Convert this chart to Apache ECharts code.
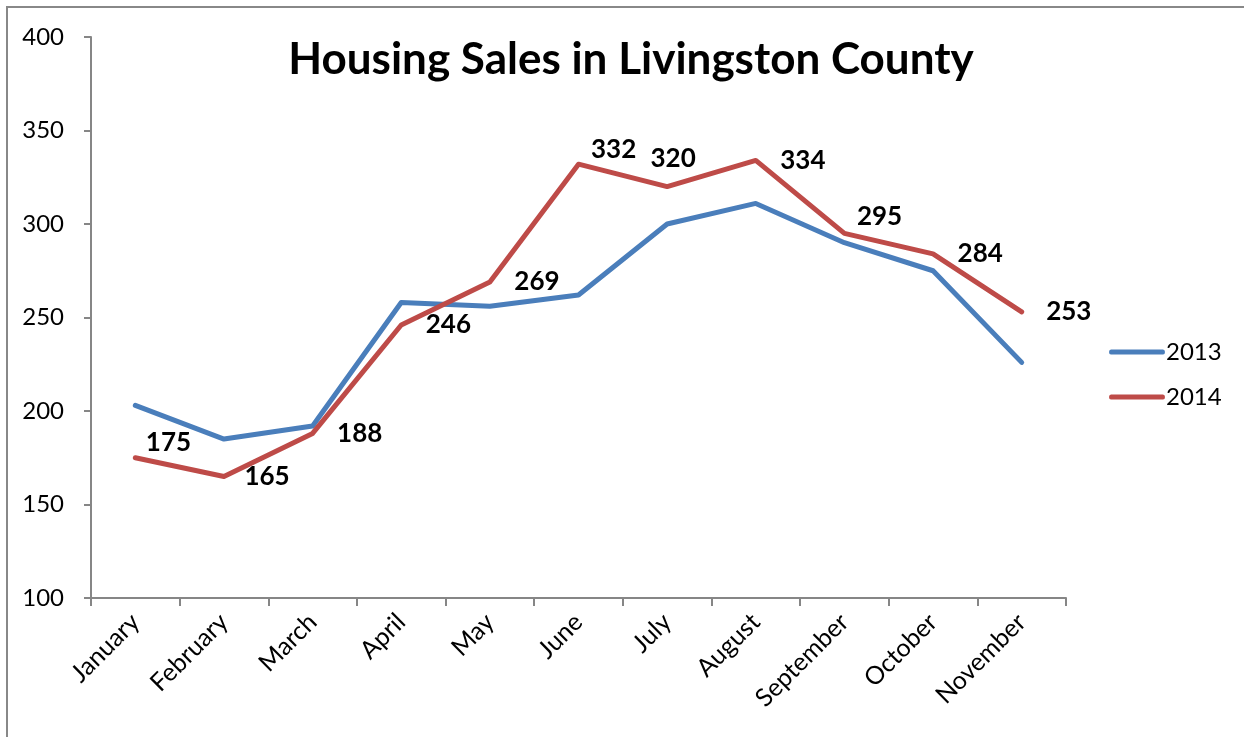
<!DOCTYPE html>
<html>
<head>
<meta charset="utf-8">
<script src="https://cdn.jsdelivr.net/npm/echarts@6/dist/echarts.min.js"></script>
<style>
  html, body { margin: 0; padding: 0; background: #fff; }
  #chart { width: 1244px; height: 737px; }
</style>
</head>
<body>
<div id="chart"></div>
<script>
// chart data
const months = ['January', 'February', 'March', 'April', 'May', 'June', 'July', 'August', 'September', 'October', 'November'];
const sales2013 = [203, 185, 192, 258, 256, 262, 300, 311, 290, 275, 226];
const sales2014 = [175, 165, 188, 246, 269, 332, 320, 334, 295, 284, 253];
const yTicks = [100, 150, 200, 250, 300, 350, 400];

const font = 'Lato, "Open Sans", sans-serif';

// label placement tweaks for the 2014 values (by month index)
const labelTweaks = {
    0: { distance: 10, offset: [0, -15] },
    1: { distance: 20 },
    5: { distance: 12, offset: [0, -15] },
    6: { position: 'top', distance: 14, offset: [6, 0] },
    8: { distance: 12, offset: [0, -17] }
};

const chart = echarts.init(document.getElementById('chart'));
chart.setOption({
    animation: false,
    backgroundColor: '#fff',
    title: {
        text: 'Housing Sales in Livingston County',
        left: 626,
        top: 33,
        textAlign: 'center',
        textStyle: { fontFamily: font, fontWeight: 'bold', fontSize: 44, color: '#000' }
    },
    graphic: [{
        type: 'rect',
        shape: { x: 7, y: 7, width: 1400, height: 900 },
        style: { fill: 'none', stroke: '#888', lineWidth: 2 },
        silent: true
    }],
    legend: {
        orient: 'vertical',
        left: 1104,
        top: 335,
        itemWidth: 56,
        itemHeight: 14,
        itemGap: 21,
        icon: 'path://M2,5 L54,5 Q56,5 56,7.5 Q56,10 54,10 L2,10 Q0,10 0,7.5 Q0,5 2,5 Z',
        textStyle: { fontFamily: font, fontSize: 24, color: '#000', padding: [0, 0, 0, -4] },
        data: ['2013', '2014']
    },
    grid: { left: 91, right: 178, top: 37, bottom: 139 },
    xAxis: {
        type: 'category',
        data: months,
        boundaryGap: true,
        axisLine: { lineStyle: { color: '#868686', width: 2 } },
        axisTick: { show: true, length: 8, lineStyle: { color: '#868686', width: 2 } },
        axisLabel: { rotate: 45, margin: 20, fontFamily: font, fontSize: 25, color: '#000', interval: 0 }
    },
    yAxis: {
        type: 'value',
        min: yTicks[0],
        max: yTicks[yTicks.length - 1],
        interval: 50,
        splitLine: { show: false },
        axisLine: { show: true, lineStyle: { color: '#868686', width: 2 } },
        axisTick: { show: true, length: 7, lineStyle: { color: '#868686', width: 2 } },
        axisLabel: { margin: 27, fontFamily: font, fontSize: 24, color: '#000' }
    },
    series: [
        {
            name: '2013',
            type: 'line',
            data: sales2013,
            color: '#4A7EBB',
            symbol: 'none',
            lineStyle: { width: 5, color: '#4A7EBB', cap: 'round', join: 'round' },
            z: 2
        },
        {
            name: '2014',
            type: 'line',
            data: sales2014.map((v, i) => {
                const t = labelTweaks[i];
                return t ? { value: v, label: t } : v;
            }),
            color: '#BE4B48',
            symbol: 'circle',
            symbolSize: 1,
            showSymbol: true,
            lineStyle: { width: 5, color: '#BE4B48', cap: 'round', join: 'round' },
            label: {
                show: true,
                position: 'right',
                distance: 24,
                fontFamily: font,
                fontWeight: 'bold',
                fontSize: 26,
                color: '#000'
            },
            z: 3
        }
    ]
});
</script>
</body>
</html>
